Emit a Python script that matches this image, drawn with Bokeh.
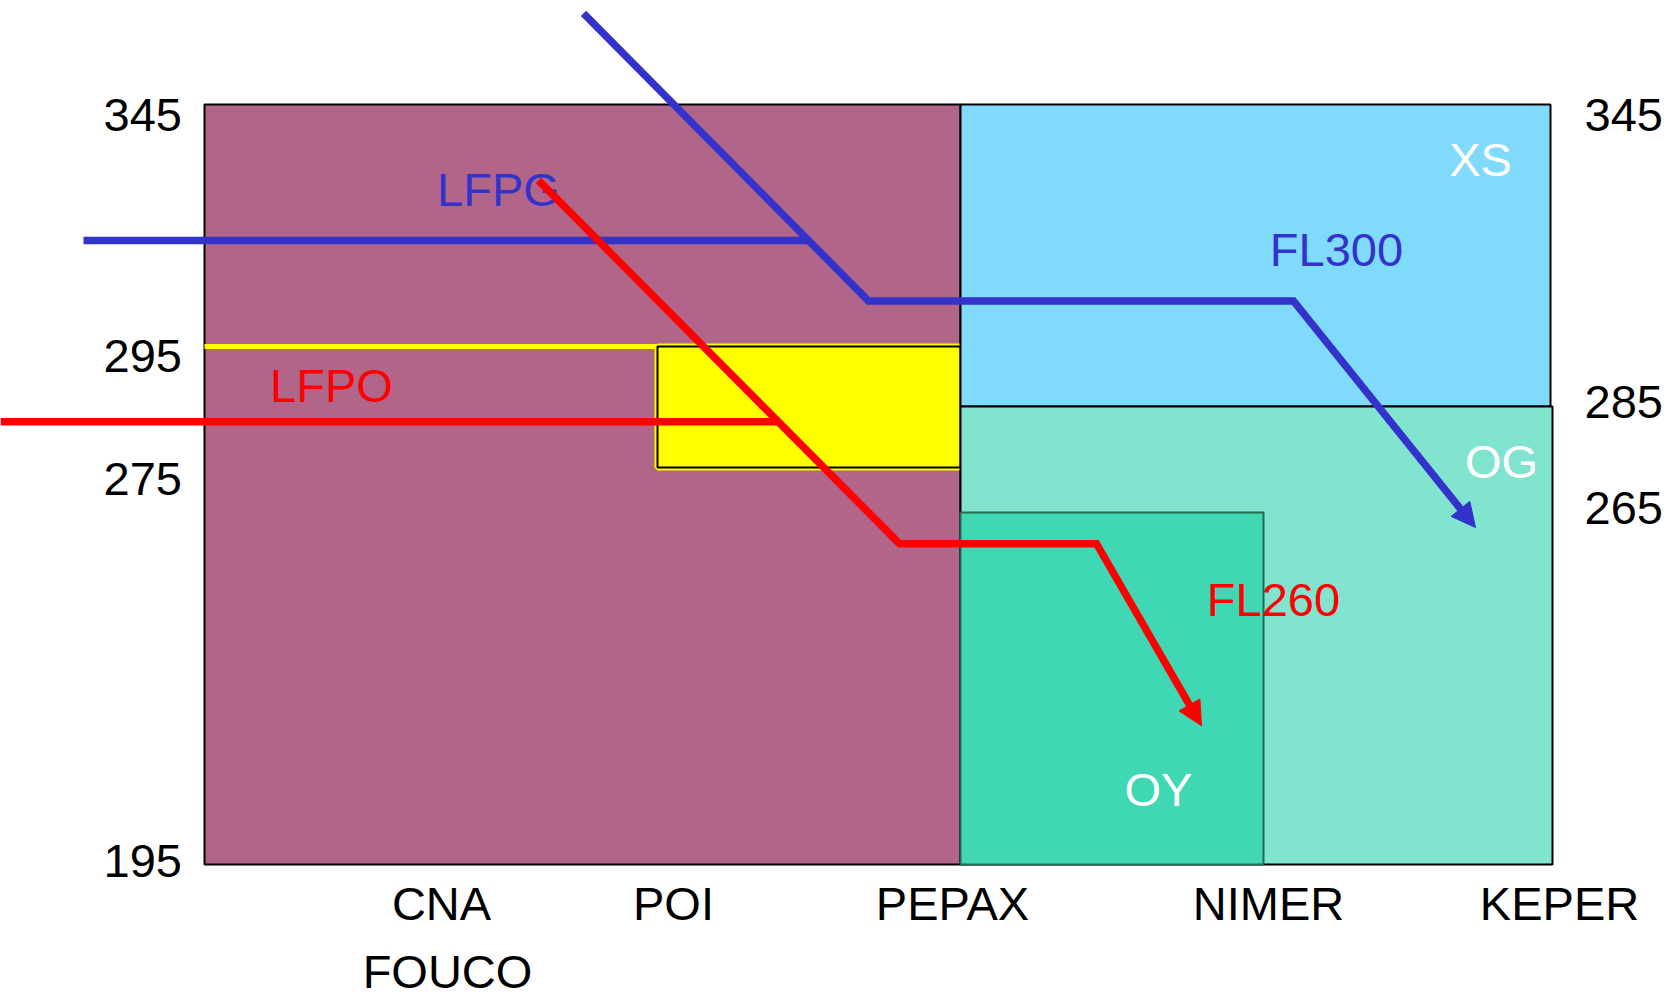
import numpy as np
from bokeh.plotting import figure
from bokeh.models import Range1d, Arrow, NormalHead
from bokeh.core.properties import value
from bokeh.embed import file_html
from bokeh.resources import INLINE

# ---------------- data ----------------
# vertical scale of the diagram: flight level -> page row (piecewise, as drawn)
SCALE_FL = [195, 265, 275, 285, 295, 345, 385]
SCALE_ROW = [864, 512, 467, 406, 346, 104, -90]

waypoints = ["CNA", "POI", "PEPAX", "NIMER", "KEPER"]
waypoint_dist = [44.1, 67.3, 95.2, 126.8, 155.9]
waypoints_row2 = ["FOUCO"]
waypoints_row2_dist = [44.7]

left_levels = [345, 295, 275, 195]
right_levels = [345, 285, 265]

sector_names = ["", "XS", "OG", "OY"]
sector_from = [20.4, 96.0, 96.0, 96.0]
sector_to = [96.0, 155.0, 155.2, 126.3]
sector_floor = [195, 285, 195, 195]
sector_ceiling = [345, 345, 285, 265]

zone_from = [65.7]
zone_to = [96.0]
zone_floor = [275]
zone_ceiling = [295]

blue_level_dist = [8.3, 80.8]
blue_level_fl = [316.9, 316.9]
blue_route_dist = [58.3, 86.8, 129.3, 147.5]
blue_route_fl = [363.8, 304.4, 304.4, 262.0]

red_level_dist = [0.0, 77.7]
red_level_fl = [282.5, 282.5]
red_route_dist = [53.8, 89.9, 109.6, 120.1]
red_route_fl = [329.3, 258.8, 258.8, 222.6]

route_labels = ["LFPG", "FL300", "LFPO", "FL260"]
route_label_dist = [49.8, 133.6, 33.1, 127.3]
route_label_fl = [323.9, 311.5, 285.7, 244.4]

sector_labels = ["XS", "OG", "OY"]
sector_label_dist = [148.0, 150.1, 115.8]
sector_label_fl = [330.2, 272.6, 206.5]

# ---------------- styles ----------------
BLUE = "#3333CC"
RED = "#FF0000"
YELLOW = "#FFFF00"
sector_fill = ["#B16689", "#80DAFB", "#80E4CE", "#40D8B4"]
sector_line = ["#000000", "#000000", "#000000", "#236B50"]
FONT = value("Liberation Sans")
FSIZE = "47px"
X_PX = 10.0          # screen px per distance unit
TEXT_SHIFT = 17.0    # baseline correction of the svg text placement (px)
left_label_drop = [27.7, 26.0, 28.0, 13.5]
right_label_drop = [27.4, 12.0, 12.3]


def ypos(fl):
    return np.interp(np.asarray(fl, dtype=float), SCALE_FL, SCALE_ROW)


def ytext(fl, drop=0.0):
    return ypos(fl) + np.asarray(drop, dtype=float) - TEXT_SHIFT


p = figure(width=1670, height=1001,
           x_range=Range1d(0.0, 167.0), y_range=Range1d(1001, 0),
           output_backend="svg", toolbar_location=None,
           x_axis_location=None, y_axis_location=None, min_border=0)
p.outline_line_color = None
p.background_fill_color = "white"
p.border_fill_color = "white"
p.xgrid.visible = False
p.ygrid.visible = False

# sectors
p.quad(left=sector_from[:1], right=sector_to[:1],
       bottom=ypos(sector_floor[:1]), top=ypos(sector_ceiling[:1]),
       fill_color=sector_fill[0], line_color=sector_line[0], line_width=2)

# yellow zone with its yellow edge
p.line(x=[sector_from[0], zone_from[0]], y=ypos([zone_ceiling[0], zone_ceiling[0]]),
       line_color=YELLOW, line_width=5)
p.quad(left=zone_from, right=zone_to, bottom=ypos(zone_floor), top=ypos(zone_ceiling),
       fill_color=YELLOW, line_color=YELLOW, line_width=6)
p.quad(left=zone_from, right=zone_to, bottom=ypos(zone_floor), top=ypos(zone_ceiling),
       fill_color=None, line_color="black", line_width=2)

for i in range(1, 4):
    p.quad(left=[sector_from[i]], right=[sector_to[i]],
           bottom=ypos([sector_floor[i]]), top=ypos([sector_ceiling[i]]),
           fill_color=sector_fill[i], line_color=sector_line[i], line_width=2)

# labels inside the diagram
p.text(x=sector_label_dist, y=ytext(sector_label_fl), text=sector_labels,
       text_font=FONT, text_font_size=FSIZE, text_color="white",
       text_align="center", text_baseline="alphabetic")
p.text(x=route_label_dist, y=ytext(route_label_fl), text=route_labels,
       text_font=FONT, text_font_size=FSIZE, text_color=[BLUE, BLUE, RED, RED],
       text_align="center", text_baseline="alphabetic")


def route(dist, fl, color, arrow):
    xs = np.array(dist, dtype=float)
    ys = ypos(fl)
    if not arrow:
        p.line(xs, ys, line_color=color, line_width=7.5, line_join="miter")
        return
    dx = (xs[-1] - xs[-2]) * X_PX
    dy = ys[-1] - ys[-2]
    L = np.hypot(dx, dy)
    back = 12.0
    xl = xs.copy()
    yl = ys.copy()
    xl[-1] = xs[-1] - dx / L * back / X_PX
    yl[-1] = ys[-1] - dy / L * back
    p.line(xl, yl, line_color=color, line_width=7.5, line_join="miter")
    p.add_layout(Arrow(end=NormalHead(size=24, fill_color=color, line_color=color, line_width=1),
                       x_start=xs[-2], y_start=ys[-2], x_end=xs[-1], y_end=ys[-1],
                       line_alpha=0, line_width=1))


route(blue_level_dist, blue_level_fl, BLUE, False)
route(blue_route_dist, blue_route_fl, BLUE, True)
route(red_level_dist, red_level_fl, RED, False)
route(red_route_dist, red_route_fl, RED, True)

# tick labels
p.text(x=[18.15] * len(left_levels),
       y=ytext(left_levels, left_label_drop),
       text=[str(v) for v in left_levels],
       text_font=FONT, text_font_size=FSIZE, text_color="black",
       text_align="right", text_baseline="alphabetic")
p.text(x=[158.4] * len(right_levels),
       y=ytext(right_levels, right_label_drop),
       text=[str(v) for v in right_levels],
       text_font=FONT, text_font_size=FSIZE, text_color="black",
       text_align="left", text_baseline="alphabetic")
p.text(x=waypoint_dist, y=ytext([195] * len(waypoints), 55.5), text=waypoints,
       text_font=FONT, text_font_size=FSIZE, text_color="black",
       text_align="center", text_baseline="alphabetic")
p.text(x=waypoints_row2_dist, y=ytext([195] * len(waypoints_row2), 124.0), text=waypoints_row2,
       text_font=FONT, text_font_size=FSIZE, text_color="black",
       text_align="center", text_baseline="alphabetic")

open("out.html", "w").write(file_html(p, INLINE))
